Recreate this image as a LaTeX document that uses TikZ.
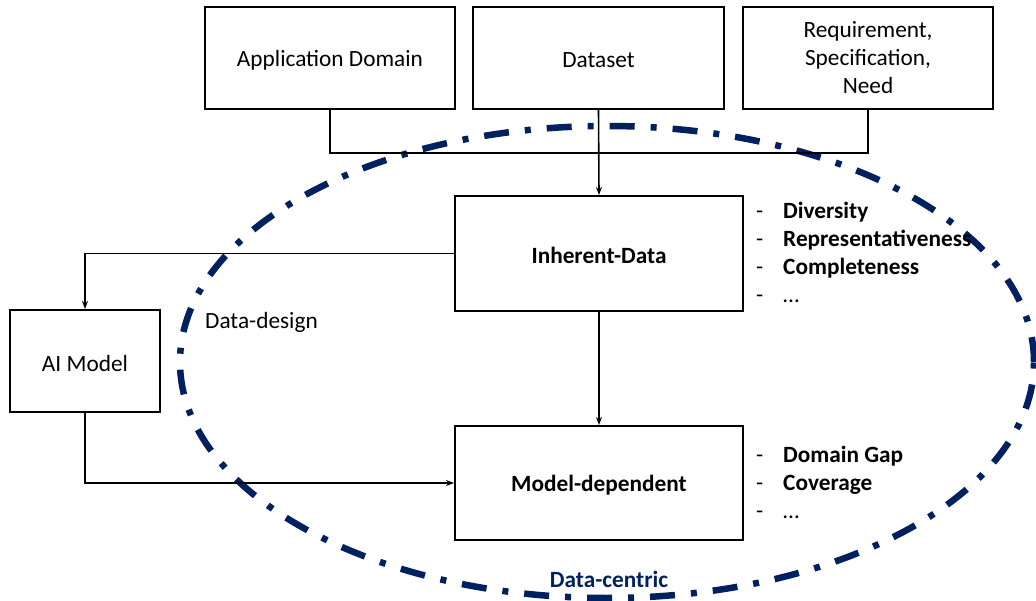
\documentclass[tikz,border=0pt]{standalone}
\usepackage{fontspec}
\setmainfont{Carlito}
\usetikzlibrary{arrows.meta}
\definecolor{navy}{HTML}{002060}
\newcommand{\dn}[1]{\raisebox{-2pt}[\height][\depth]{#1}}
\begin{document}
\begin{tikzpicture}[x=1pt,y=-1pt,
  txt/.style={font=\fontsize{23.3}{28}\selectfont},
  box/.style={draw=black,line width=2pt,rectangle,inner sep=0pt,align=center,txt},
  conn/.style={draw=black,line width=1.6pt},
  arr/.style={conn,-{Stealth[length=8pt,width=6pt]}},
  item/.style={anchor=base west,inner sep=0pt,font=\fontsize{23.3}{28}\selectfont\bfseries},
  dashmark/.style={anchor=base west,inner sep=0pt,txt},
  ell/.style={draw=navy,line width=6.5pt,dash pattern=on 25pt off 16pt on 6pt off 16pt}]
\useasboundingbox (0,0) rectangle (1036,601);
% ellipse
\draw[ell] (607,362) ellipse [x radius=427pt, y radius=236pt];
% boxes
\node[box,minimum width=250pt,minimum height=102pt] (app) at (330,58) {\dn{Application Domain}};
\node[box,minimum width=251pt,minimum height=102pt] (ds) at (598.5,58) {\dn{Dataset}};
\node[box,minimum width=250pt,minimum height=102pt] (req) at (868,58) {\dn{\begin{tabular}{@{}c@{}}Requirement,\\Specification,\\Need\end{tabular}}};
\node[box,minimum width=288pt,minimum height=115pt,font=\fontsize{23.3}{28}\selectfont\bfseries] (inh) at (599,253.5) {\dn{Inherent-Data}};
\node[box,minimum width=288pt,minimum height=114pt,font=\fontsize{23.3}{28}\selectfont\bfseries] (md) at (599,483) {\dn{Model-dependent}};
\node[box,minimum width=150pt,minimum height=102pt] (ai) at (85,361) {\dn{AI Model}};
% connectors
\coordinate (j) at (598,153);
\draw[conn] (app.south) |- (j) -| (req.south);
\draw[arr] (ds.south) -- (inh.north);
\draw[arr] (inh.south) -- (md.north);
\draw[arr] (inh.west) -| (ai.north);
\draw[arr] (ai.south) |- (md.west);
% labels
\node[anchor=west,inner sep=0pt,txt] (dd) at (205,322) {Data-design};
\node[anchor=center,inner sep=0pt,text=navy,font=\fontsize{23.3}{28}\selectfont\bfseries] (dc) at (609,579) {Data-centric};
% lists
\node[dashmark] (d1) at (756,219) {-};
\node[item] (l1) at (783,219) {Diversity};
\node[dashmark] (d2) at (756,247) {-};
\node[item] (l2) at (783,247) {Representativeness};
\node[dashmark] (d3) at (756,275) {-};
\node[item] (l3) at (783,275) {Completeness};
\node[dashmark] (d4) at (756,303) {-};
\node[item,txt] (l4) at (783,303) {\dots};
\node[dashmark] (e1) at (756,462) {-};
\node[item] (m1) at (783,462) {Domain Gap};
\node[dashmark] (e2) at (756,490) {-};
\node[item] (m2) at (783,490) {Coverage};
\node[dashmark] (e3) at (756,518) {-};
\node[item,txt] (m3) at (783,518) {\dots};
\end{tikzpicture}
\end{document}
